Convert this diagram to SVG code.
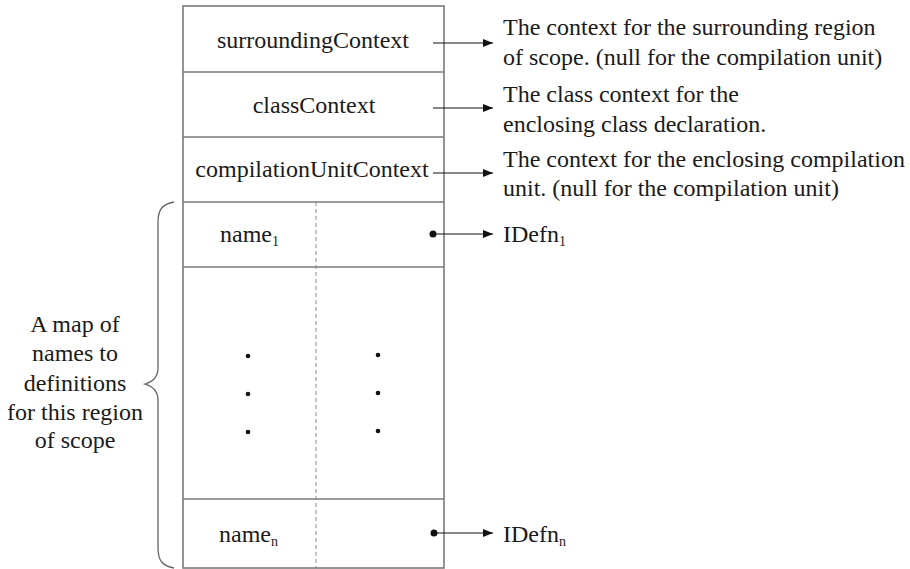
<svg xmlns="http://www.w3.org/2000/svg" width="910" height="569" viewBox="0 0 910 569" font-family="'Liberation Serif', 'Times New Roman', 'DejaVu Serif', serif">
<style>
text{font-family:'Liberation Serif','Times New Roman','DejaVu Serif',serif;font-size:24px;fill:#1a1a1a}
.c{text-anchor:middle}
.box{fill:none;stroke:#7a7a7a;stroke-width:1.6}
.sep{stroke:#7a7a7a;stroke-width:1.3}
.dash{stroke:#8a8a8a;stroke-width:1;stroke-dasharray:4 3}
.arr{stroke:#111;stroke-width:1.2;marker-end:url(#ah)}
.sub{font-size:14px}
</style>
<defs>
<marker id="ah" viewBox="0 0 10 10" refX="10" refY="5" markerWidth="10" markerHeight="10" markerUnits="userSpaceOnUse" orient="auto">
<path d="M0,1 L10,5 L0,9 z" fill="#111"/>
</marker>
</defs>
<g id="record">
<rect class="box" x="183" y="6" width="261" height="562"/>
<line class="sep" x1="183" y1="72" x2="444" y2="72"/>
<line class="sep" x1="183" y1="137" x2="444" y2="137"/>
<line class="sep" x1="183" y1="202" x2="444" y2="202"/>
<line class="sep" x1="183" y1="267" x2="444" y2="267"/>
<line class="sep" x1="183" y1="499" x2="444" y2="499"/>
<line class="dash" x1="316" y1="202" x2="316" y2="568"/>
</g>
<g id="surroundingContext"><text class="c" x="313" y="48">surroundingContext</text></g>
<g id="classContext"><text class="c" x="314" y="113">classContext</text></g>
<g id="compilationUnitContext"><text class="c" x="312" y="177">compilationUnitContext</text></g>
<g id="name1"><text x="220" y="242">name<tspan class="sub" dy="4">1</tspan></text></g>
<g id="namen"><text x="219" y="542">name<tspan class="sub" dy="4">n</tspan></text></g>
<g id="ellipsis" fill="#111">
<circle cx="248" cy="356" r="2.3"/><circle cx="248" cy="394" r="2.3"/><circle cx="248" cy="432" r="2.3"/>
<circle cx="378" cy="355" r="2.3"/><circle cx="378" cy="393" r="2.3"/><circle cx="378" cy="431" r="2.3"/>
<circle cx="433" cy="234" r="3.5"/><circle cx="434" cy="533" r="3.5"/>
</g>
<g id="desc1"><text x="503" y="35">The context for the surrounding region</text><text x="503" y="65">of scope. (null for the compilation unit)</text></g>
<g id="desc2"><text x="503" y="102">The class context for the</text><text x="503" y="132">enclosing class declaration.</text></g>
<g id="desc3"><text x="503" y="167">The context for the enclosing compilation</text><text x="503" y="196">unit. (null for the compilation unit)</text></g>
<g id="idefn1"><text x="503" y="242">IDefn<tspan class="sub" dy="4">1</tspan></text></g>
<g id="idefnn"><text x="503" y="542">IDefn<tspan class="sub" dy="4">n</tspan></text></g>
<g id="mapLabel">
<text class="c" x="75" y="332">A map of</text>
<text class="c" x="75" y="361">names to</text>
<text class="c" x="75" y="391">definitions</text>
<text class="c" x="75" y="420">for this region</text>
<text class="c" x="75" y="448">of scope</text>
<path d="M174,202 C162,204 158,210 158,222 L158,368 C158,378 152,382 145,384 C152,386 158,390 158,400 L158,548 C158,560 162,566 174,568" fill="none" stroke="#666" stroke-width="1.3"/>
</g>
<g id="connectors">
<line class="arr" x1="433" y1="43" x2="493" y2="43"/>
<line class="arr" x1="433" y1="108" x2="493" y2="108"/>
<line class="arr" x1="433" y1="173" x2="493" y2="173"/>
<line class="arr" x1="433" y1="234" x2="493" y2="234"/>
<line class="arr" x1="434" y1="533" x2="493" y2="533"/>
</g>
</svg>
